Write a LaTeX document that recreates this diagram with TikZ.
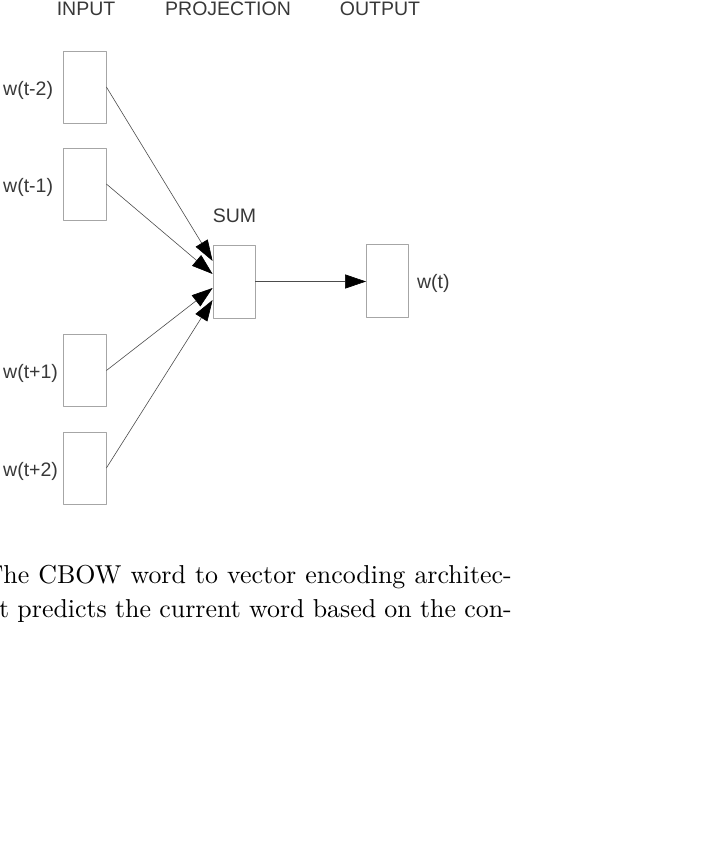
\documentclass[tikz,border=0pt]{standalone}
\usepackage{fontspec}
\newfontfamily\sansfont{Liberation Sans}
\newfontfamily\capfont{lmroman10-regular.otf}
\usetikzlibrary{arrows.meta,positioning}

\begin{document}
\begin{tikzpicture}[x=1pt, y=-1pt, line join=bevel]
  % one unit is one pixel of the page, y grows downwards
  \useasboundingbox (0,0) rectangle (708,859);
  \clip (0,0) rectangle (708,859);

  \tikzset{
    word_box/.style={draw=black!35, line width=0.8pt,
      minimum width=43pt, minimum height=72pt, inner sep=0pt},
    layer_label/.style={font=\sansfont\fontsize{19.5}{22}\selectfont,
      text=black!78, inner sep=0pt},
    caption_line/.style={font=\capfont\fontsize{25.9}{31}\selectfont,
      anchor=base west, inner sep=0pt},
    feed_line/.style={draw=black!70, line width=0.6pt,
      -{Triangle[length=21pt,width=14pt,color=black]}},
  }

  % column titles
  \node[layer_label, anchor=base] (t_in)   at (86,16)  {INPUT};
  \node[layer_label, anchor=base] (t_proj) at (228,16) {PROJECTION};
  \node[layer_label, anchor=base] (t_out)  at (380,16) {OUTPUT};

  % context words
  \foreach \i/\y/\lab in {1/87/{w(t-2)}, 2/184/{w(t-1)},
                          3/370.5/{w(t+1)}, 4/468/{w(t+2)}}{
    \node[word_box] (in\i) at (84.5,\y) {};
    \node[layer_label, anchor=base west] (lab\i) at (3,{\y+8}) {\lab};
  }

  % projection and output
  \node[word_box, minimum width=42pt, minimum height=73pt] (sum) at (234,281.5) {};
  \node[layer_label, above right=22pt and 0pt of sum.north west] (sum_lab) {SUM};
  \node[word_box, minimum width=42pt, minimum height=73pt] (out) at (387.5,280.5) {};
  \node[layer_label, right=8pt of out, yshift=-3pt] (out_lab) {w(t)};

  \foreach \i/\dy in {1/20.5, 2/7.5, 3/-6.5, 4/-18.5}{
    \draw[feed_line] (in\i.east) -- ([yshift=\dy pt]sum.west);
  }
  \draw[feed_line] (sum.east) -- (sum.east -| out.west);

  % caption, cut at the left edge
  \node[caption_line] (cap1) at (-15.5,583)
    {\hbox to 527pt{The CBOW word to vector encoding architec-}};
  \node[caption_line] (cap2) at (-10.4,617)
    {\hbox to 522pt{It predicts the current word based on the con-}};
\end{tikzpicture}
\end{document}
